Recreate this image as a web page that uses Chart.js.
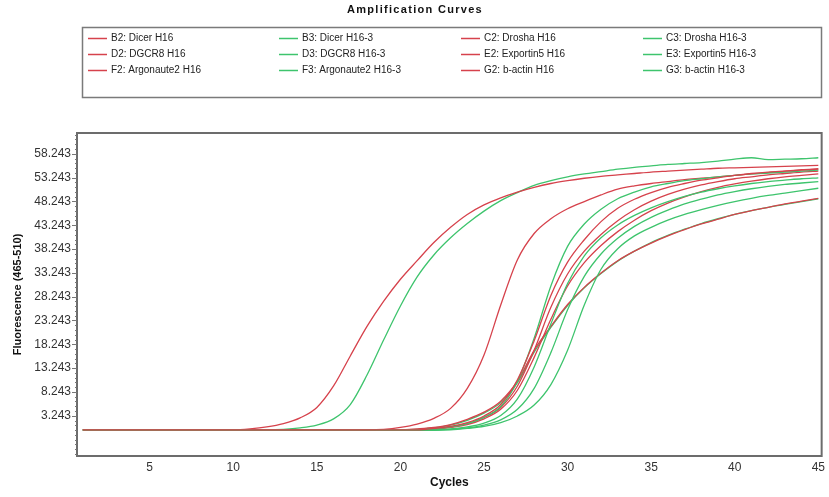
<!DOCTYPE html>
<html>
<head>
<meta charset="utf-8">
<title>Amplification Curves</title>
<script src="https://cdn.jsdelivr.net/npm/chart.js@4.4.1/dist/chart.umd.min.js"></script>
<style>
  html, body { margin: 0; padding: 0; background: #fff; }
  canvas { display: block; }
</style>
</head>
<body>
<canvas id="ampChart" width="829" height="497"></canvas>
<script>
// PCR cycle numbers
const cycles = [1, 2, 3, 4, 5, 6, 7, 8, 9, 10, 11, 12, 13, 14, 15, 16, 17, 18, 19, 20, 21, 22, 23,
    24, 25, 26, 27, 28, 29, 30, 31, 32, 33, 34, 35, 36, 37, 38, 39, 40, 41, 42, 43, 44, 45];

const yTickValues = [3.243, 8.243, 13.243, 18.243, 23.243, 28.243, 33.243, 38.243, 43.243, 48.243, 53.243, 58.243];
const xTickValues = [5, 10, 15, 20, 25, 30, 35, 40, 45];

// fluorescence (465-510) per cycle, one array per well
const dicerH16 = [0.3, 0.3, 0.3, 0.3, 0.3, 0.3, 0.3, 0.3, 0.3, 0.3, 0.3, 0.3, 0.3, 0.3, 0.3, 0.3, 0.3, 0.3, 0.3, 0.3, 0.3,
    0.6, 1.0, 1.8, 3.2, 5.6, 10.8, 19.0, 28.5, 35.5, 40.2, 44.0, 46.8, 48.7, 50.1, 51.2, 52.0, 52.7, 53.2, 53.7, 54.1, 54.4, 54.6, 54.8, 55.0];
const dicerH163 = [0.3, 0.3, 0.3, 0.3, 0.3, 0.3, 0.3, 0.3, 0.3, 0.3, 0.3, 0.3, 0.3, 0.3, 0.3, 0.3, 0.3, 0.3, 0.3, 0.3, 0.3,
    0.5, 0.9, 1.6, 2.9, 5.2, 10.5, 19.5, 30.5, 38.8, 43.5, 46.6, 48.8, 50.2, 51.3, 52.0, 52.6, 53.0, 53.4, 53.7, 54.0, 54.2, 54.4, 54.6, 54.8];
const droshaH16 = [0.3, 0.3, 0.3, 0.3, 0.3, 0.3, 0.3, 0.3, 0.3, 0.3, 0.3, 0.3, 0.3, 0.3, 0.3, 0.3, 0.3, 0.3,
    0.4, 0.8, 1.5, 2.7, 4.8, 9.0, 16.0, 26.5, 36.0, 41.5, 44.6, 46.7, 48.2, 49.6, 50.8, 51.5, 52.0, 52.4, 52.8, 53.1, 53.4, 53.7, 54.0, 54.3, 54.6, 54.9, 55.1];
const droshaH163 = [0.3, 0.3, 0.3, 0.3, 0.3, 0.3, 0.3, 0.3, 0.3, 0.3, 0.3, 0.3, 0.3, 0.3, 0.3, 0.3, 0.3, 0.3, 0.3, 0.3, 0.3, 0.3,
    0.5, 0.9, 1.7, 3.3, 6.8, 13.5, 22.5, 31.0, 36.8, 40.6, 43.3, 45.3, 46.9, 48.2, 49.3, 50.2, 50.9, 51.5, 52.0, 52.4, 52.7, 53.0, 53.2];
const dgcr8H16 = [0.3, 0.3, 0.3, 0.3, 0.3, 0.3, 0.3, 0.3, 0.3, 0.3, 0.3, 0.3, 0.3, 0.3, 0.3, 0.3, 0.3, 0.3, 0.3, 0.3, 0.3,
    0.5, 0.9, 1.6, 2.9, 5.0, 9.5, 17.0, 26.0, 33.0, 37.8, 41.3, 44.2, 46.5, 48.3, 49.7, 50.8, 51.7, 52.4, 53.0, 53.4, 53.8, 54.1, 54.4, 54.6];
const dgcr8H163 = [0.3, 0.3, 0.3, 0.3, 0.3, 0.3, 0.3, 0.3, 0.3, 0.3, 0.3, 0.3, 0.3, 0.3, 0.3, 0.3, 0.3, 0.3, 0.3, 0.3, 0.3, 0.3,
    0.4, 0.7, 1.3, 2.4, 4.6, 9.0, 16.5, 25.5, 32.5, 37.2, 40.5, 43.0, 44.9, 46.4, 47.7, 48.7, 49.6, 50.3, 50.9, 51.4, 51.8, 52.1, 52.4];
const exportin5H16 = [0.3, 0.3, 0.3, 0.3, 0.3, 0.3, 0.3, 0.3, 0.3, 0.3, 0.3, 0.3, 0.3, 0.3, 0.3, 0.3, 0.3, 0.3, 0.3, 0.3, 0.3,
    0.4, 0.8, 1.4, 2.6, 4.6, 8.6, 15.5, 23.5, 30.5, 35.4, 39.0, 41.9, 44.3, 46.3, 47.9, 49.2, 50.3, 51.2, 51.9, 52.5, 53.0, 53.4, 53.7, 54.0];
const exportin5H163 = [0.2, 0.2, 0.2, 0.2, 0.2, 0.2, 0.2, 0.2, 0.2, 0.2, 0.2, 0.2, 0.2, 0.2, 0.2, 0.2, 0.2, 0.2, 0.2, 0.2, 0.2, 0.2,
    0.3, 0.6, 1.0, 1.8, 3.2, 5.5, 9.8, 17.0, 26.5, 34.0, 38.3, 41.0, 42.8, 44.3, 45.5, 46.5, 47.4, 48.2, 48.9, 49.5, 50.0, 50.5, 51.0];
const argonaute2H16 = [0.3, 0.3, 0.3, 0.3, 0.3, 0.3, 0.3, 0.3, 0.3, 0.3, 0.3, 0.3, 0.3, 0.3, 0.3, 0.3, 0.3, 0.3, 0.3, 0.3,
    0.5, 0.8, 1.4, 2.5, 4.0, 6.3, 10.5, 17.0, 22.0, 26.6, 30.2, 33.2, 35.8, 37.8, 39.5, 41.0, 42.3, 43.5, 44.5, 45.5, 46.3, 47.0, 47.7, 48.3, 48.9];
const argonaute2H163 = [0.3, 0.3, 0.3, 0.3, 0.3, 0.3, 0.3, 0.3, 0.3, 0.3, 0.3, 0.3, 0.3, 0.3, 0.3, 0.3, 0.3, 0.3, 0.3, 0.3,
    0.4, 0.7, 1.3, 2.3, 3.8, 6.0, 10.2, 16.6, 21.8, 26.4, 30.1, 33.1, 35.7, 37.8, 39.6, 41.1, 42.4, 43.6, 44.6, 45.5, 46.3, 47.0, 47.6, 48.2, 48.8];
const bactinH16 = [0.3, 0.3, 0.3, 0.3, 0.3, 0.3, 0.3, 0.3, 0.3, 0.3,
    0.5, 0.9, 1.6, 2.8, 5.0, 9.5, 15.8, 22.0, 27.3, 31.9, 35.8, 39.6, 42.8, 45.5, 47.5, 49.0, 50.2, 51.2, 52.0, 52.6, 53.1, 53.5, 53.8, 54.1, 54.4, 54.6, 54.8, 55.0, 55.2, 55.3, 55.4, 55.5, 55.6, 55.7, 55.8];
const bactinH163 = [0.3, 0.3, 0.3, 0.3, 0.3, 0.3, 0.3, 0.3, 0.3, 0.3, 0.3, 0.3,
    0.4, 0.7, 1.3, 2.6, 5.6, 11.8, 19.2, 26.3, 32.4, 37.0, 40.6, 43.6, 46.2, 48.4, 50.1, 51.6, 52.6, 53.4, 54.0, 54.5, 55.0, 55.4, 55.7, 56.0, 56.2, 56.4, 56.7, 57.1, 57.4, 57.0, 57.1, 57.2, 57.4];

// legend order: four columns, three rows
const seriesNames = ['B2: Dicer H16', 'B3: Dicer H16-3', 'C2: Drosha H16', 'C3: Drosha H16-3',
    'D2: DGCR8 H16', 'D3: DGCR8 H16-3', 'E2: Exportin5 H16', 'E3: Exportin5 H16-3',
    'F2: Argonaute2 H16', 'F3: Argonaute2 H16-3', 'G2: b-actin H16', 'G3: b-actin H16-3'];
const seriesValues = [dicerH16, dicerH163, droshaH16, droshaH163, dgcr8H16, dgcr8H163,
    exportin5H16, exportin5H163, argonaute2H16, argonaute2H163, bactinH16, bactinH163];

const colorRed = '#d6424c';
const colorGreen = '#3ec46d';
const fontFamily = '"Liberation Sans", Arial, sans-serif';

const datasets = seriesNames.map(function (name, i) {
    return {
        label: name,
        data: seriesValues[i].map(function (v, k) { return { x: cycles[k], y: v }; }),
        borderColor: i % 2 === 0 ? colorRed : colorGreen,
        borderWidth: 1.3,
        pointRadius: 0,
        fill: false,
        cubicInterpolationMode: 'monotone'
    };
});

// title, legend box, plot frame and axis tick marks
const decorPlugin = {
    id: 'decor',
    beforeDraw(chart) {
        const ctx = chart.ctx;
        ctx.save();
        ctx.fillStyle = '#ffffff';
        ctx.fillRect(0, 0, chart.width, chart.height);
        ctx.restore();
    },
    afterDraw(chart) {
        const { ctx, chartArea: a, scales: { y } } = chart;
        ctx.save();

        // title
        ctx.fillStyle = '#111';
        ctx.font = 'bold 11px ' + fontFamily;
        ctx.letterSpacing = '1.3px';
        ctx.textAlign = 'center';
        ctx.textBaseline = 'middle';
        ctx.fillText('Amplification Curves', 415, 10);
        ctx.letterSpacing = '0px';

        // legend box
        ctx.strokeStyle = '#7a7a7a';
        ctx.lineWidth = 1.5;
        ctx.strokeRect(82.5, 27.5, 739, 70);

        const colText = [111, 302, 484, 666];
        const rowY = [38, 54, 70];
        ctx.font = '10px ' + fontFamily;
        ctx.textAlign = 'left';
        chart.data.datasets.forEach(function (ds, i) {
            const tx = colText[i % 4];
            const ty = rowY[Math.floor(i / 4)];
            ctx.strokeStyle = ds.borderColor;
            ctx.lineWidth = 1.5;
            ctx.beginPath();
            ctx.moveTo(tx - 23, ty + 0.5);
            ctx.lineTo(tx - 4, ty + 0.5);
            ctx.stroke();
            ctx.fillStyle = '#222';
            ctx.fillText(ds.label, tx, ty);
        });

        // plot frame
        ctx.strokeStyle = '#6c6c6c';
        ctx.lineWidth = 2;
        ctx.strokeRect(a.left, a.top, a.right - a.left, a.bottom - a.top);

        // y tick marks, long at labels and short in between
        ctx.strokeStyle = '#777';
        ctx.lineWidth = 1;
        for (let k = -8; k <= 59; k++) {
            const v = yTickValues[0] + k;
            if (v < y.min || v > y.max) continue;
            const py = Math.round(y.getPixelForValue(v)) + 0.5;
            const len = k % 5 === 0 && k >= 0 ? 5 : 2;
            ctx.beginPath();
            ctx.moveTo(a.left - len, py);
            ctx.lineTo(a.left, py);
            ctx.stroke();
        }
        ctx.restore();
    }
};

const ctx = document.getElementById('ampChart').getContext('2d');

new Chart(ctx, {
    type: 'line',
    data: { datasets: datasets },
    plugins: [decorPlugin],
    options: {
        responsive: false,
        animation: false,
        events: [],
        layout: { padding: { top: 133, right: 4, bottom: 0, left: 0 } },
        plugins: {
            legend: { display: false },
            title: { display: false },
            tooltip: { enabled: false }
        },
        scales: {
            x: {
                type: 'linear',
                min: 0.65,
                max: 45.2,
                afterFit: function (scale) { scale.height = 41; },
                afterBuildTicks: function (scale) {
                    scale.ticks = xTickValues.map(function (v) { return { value: v }; });
                },
                grid: { display: false, drawTicks: false },
                border: { display: false },
                ticks: {
                    padding: 4,
                    maxRotation: 0,
                    autoSkip: false,
                    color: '#333',
                    font: { family: fontFamily, size: 12 }
                },
                title: {
                    display: true,
                    text: 'Cycles',
                    color: '#111',
                    padding: { top: 0, bottom: 7 },
                    font: { family: fontFamily, size: 12, weight: 'bold' }
                }
            },
            y: {
                min: -5.2,
                max: 62.6,
                afterFit: function (scale) { scale.width = 77; },
                afterBuildTicks: function (scale) {
                    scale.ticks = yTickValues.map(function (v) { return { value: v }; });
                },
                grid: { display: false, drawTicks: false },
                border: { display: false },
                ticks: {
                    padding: 6,
                    autoSkip: false,
                    color: '#333',
                    font: { family: fontFamily, size: 12 },
                    callback: function (v) { return Number(v).toFixed(3); }
                },
                title: {
                    display: true,
                    text: 'Fluorescence (465-510)',
                    color: '#111',
                    padding: { top: 11, bottom: 0 },
                    font: { family: fontFamily, size: 11, weight: 'bold' }
                }
            }
        }
    }
});
</script>
</body>
</html>
